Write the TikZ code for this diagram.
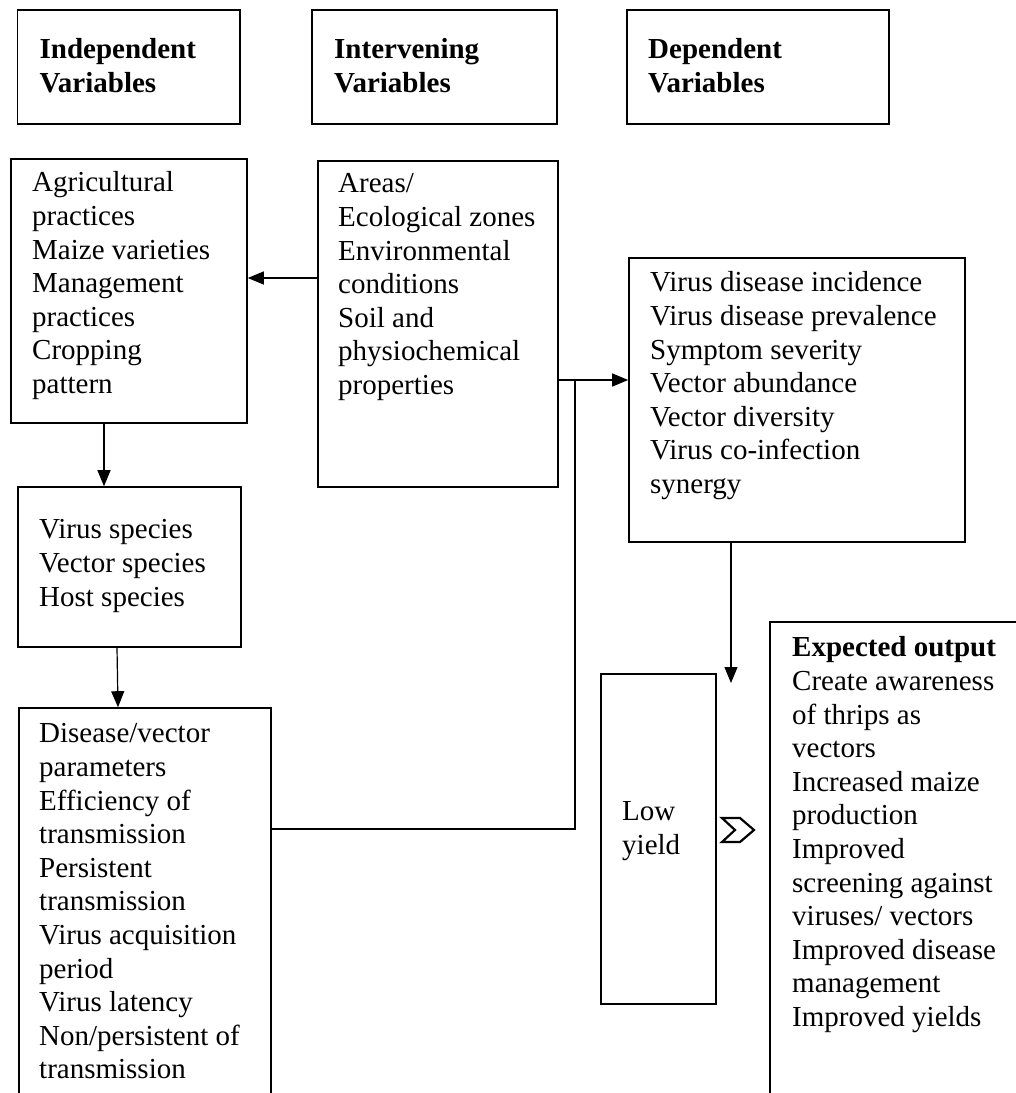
\documentclass[tikz,border=0pt]{standalone}
\usepackage{fontspec}
\setmainfont{Liberation Serif}
\usetikzlibrary{arrows.meta}
\newcommand{\boxfont}{\fontsize{29}{33.6}\selectfont}

\begin{document}
\begin{tikzpicture}[x=1pt, y=-1pt,
    box/.style={draw, line width=1.6pt, inner sep=0pt},
    txt/.style={anchor=north west, inner sep=0pt, align=left, font=\boxfont, execute at begin node=\strut},
    head/.style={txt, font=\boxfont\bfseries},
    con/.style={line width=1.2pt},
    arr/.style={line width=1.2pt, -{Triangle[length=16pt, width=13pt]}}]
    \useasboundingbox (0,0) rectangle (1016,1093);
    \clip (0,0) rectangle (1016,1093);

    \node[box, minimum width=222.5pt, minimum height=114pt] (hindep) at (128.75,67) {};
    \node[box, minimum width=245pt, minimum height=114pt] (hinterv) at (434.5,67) {};
    \node[box, minimum width=262pt, minimum height=114pt] (hdep) at (758,67) {};
    \node[head] (hindeptxt) at (39.5,38.5) {Independent\\Variables};
    \node[head] (hintervtxt) at (334,38.5) {Intervening\\Variables};
    \node[head] (hdeptxt) at (648,38.5) {Dependent\\Variables};

    \node[box, minimum width=236pt, minimum height=264pt] (agri) at (129,291) {};
    \node[txt] (agritxt) at (32,171.5) {Agricultural\\practices\\Maize varieties\\Management\\practices\\Cropping\\pattern};
    \node[box, minimum width=240pt, minimum height=326pt] (areas) at (438,324) {};
    \node[txt] (areastxt) at (338,173.5) {Areas/\\Ecological zones\\Environmental\\conditions\\Soil and\\physiochemical\\properties};
    \node[box, minimum width=336pt, minimum height=284pt] (vd) at (797,400) {};
    \node[txt] (vdtxt) at (650,271.5) {Virus disease incidence\\Virus disease prevalence\\Symptom severity\\Vector abundance\\Vector diversity\\Virus co-infection\\synergy};
    \node[box, minimum width=223pt, minimum height=160pt] (vs) at (129.5,567) {};
    \node[txt] (vstxt) at (39,519.5) {Virus species\\Vector species\\Host species};
    \node[box, minimum width=252pt, minimum height=412pt] (dis) at (145,914) {};
    \node[txt] (distxt) at (39,723.5) {Disease/vector\\parameters\\Efficiency of\\transmission\\Persistent\\transmission\\Virus acquisition\\period\\Virus latency\\Non/persistent of\\transmission};
    \node[box, minimum width=115pt, minimum height=330pt] (low) at (658.5,839) {};
    \node[txt] (lowtxt) at (622,801.5) {Low\\yield};
    \node[box, minimum width=270pt, minimum height=498pt] (exp) at (905,871) {};
    \node[txt] (exptxt) at (792,636.5) {\textbf{Expected output}\\Create awareness\\of thrips as\\vectors\\Increased maize\\production\\Improved\\screening against\\viruses/ vectors\\Improved disease\\management\\Improved yields};

    \coordinate (jtop) at (575,380);
    \coordinate (jbot) at (575,829);
    \coordinate (vdend) at (731,683);

    \draw[arr] ([yshift=46pt]areas.west) -- ([yshift=46pt]areas.west -| agri.east);
    \draw[arr] ([xshift=-25pt]agri.south) -- ([xshift=-25pt]agri.south |- vs.north);
    \draw[arr] ([xshift=-12.5pt]vs.south) -- ([xshift=-11.5pt]vs.south |- dis.north);
    \draw[arr] (areas.east |- jtop) -- (vd.west |- jtop);
    \draw[con] (dis.east |- jbot) -- (jbot) -- (jtop);
    \draw[arr] (vd.south -| vdend) -- (vdend);
    \draw[line width=2.2pt, line join=miter] (722,818) -- (740,818) -- (754,830) -- (740,842) -- (722,842) -- (735,830) -- cycle;
\end{tikzpicture}
\end{document}
